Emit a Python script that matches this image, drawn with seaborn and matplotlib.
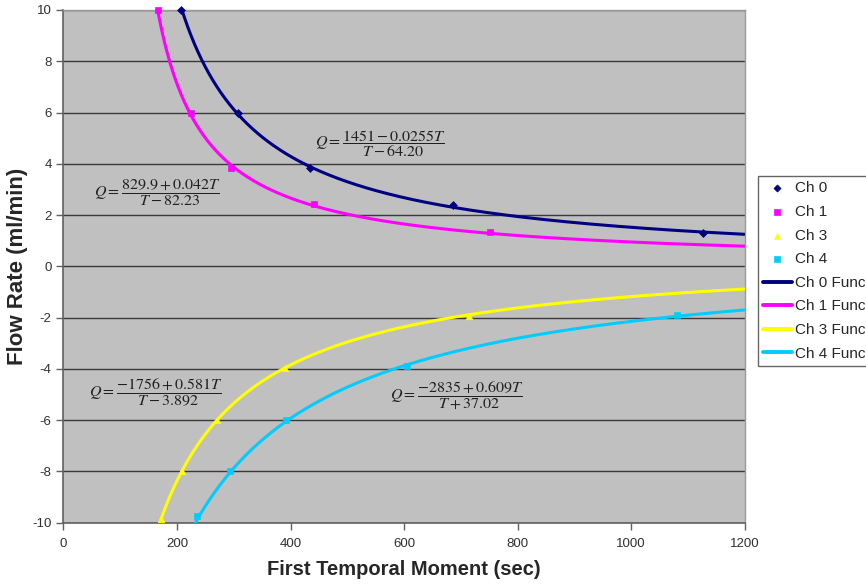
import numpy as np
import pandas as pd
import matplotlib
matplotlib.use("Agg")
import matplotlib.pyplot as plt
import seaborn as sns

# Measured calibration points (first temporal moment T in sec, flow rate Q in ml/min)
ch0_T = [207, 307, 434, 686, 1127]
ch0_Q = [10.0, 5.98, 3.84, 2.40, 1.30]
ch1_T = [166, 225, 296, 442, 751]
ch1_Q = [10.0, 6.0, 3.83, 2.44, 1.33]
ch3_T = [171, 209, 271, 390, 714]
ch3_Q = [-9.85, -8.0, -6.0, -3.97, -1.92]
ch4_T = [236, 293, 392, 606, 1081]
ch4_Q = [-9.75, -8.0, -6.0, -3.90, -1.88]

# Fitted curves Q = (a + b*T) / (T + c)
ch0_fit = (1451.0, -0.0255, -64.20)
ch1_fit = (829.9, 0.042, -82.23)
ch3_fit = (-1756.0, 0.581, -3.892)
ch4_fit = (-2835.0, 0.609, 37.02)

channels = ["Ch 0", "Ch 1", "Ch 3", "Ch 4"]
colors = ["#000080", "#FF00FF", "#FFFF00", "#00CCFF"]
markers = ["D", "s", "^", "s"]
eq_labels = [
    r"$Q=\dfrac{1451-0.0255T}{T-64.20}$",
    r"$Q=\dfrac{829.9+0.042T}{T-82.23}$",
    r"$Q=\dfrac{-1756+0.581T}{T-3.892}$",
    r"$Q=\dfrac{-2835+0.609T}{T+37.02}$",
]
eq_pos = [(558, 4.78), (166, 2.88), (163, -4.94), (694, -5.04)]

sns.set_theme(style="white")
plt.rcParams["font.family"] = ["Liberation Sans", "DejaVu Sans"]
plt.rcParams["mathtext.fontset"] = "stix"
plt.rcParams["axes.unicode_minus"] = False

fig = plt.figure(figsize=(8.66, 5.84), dpi=100)
ax = fig.add_axes([63.5 / 866, (584 - 522.7) / 584, (744.5 - 63.5) / 866, (522.7 - 10) / 584])
ax.set_facecolor("#C0C0C0")

points = [(ch0_T, ch0_Q), (ch1_T, ch1_Q), (ch3_T, ch3_Q), (ch4_T, ch4_Q)]
fits = [ch0_fit, ch1_fit, ch3_fit, ch4_fit]

T_grid = np.linspace(150, 1200, 800)
for name, col, mk, (tx, qy), (a, b, c) in zip(channels, colors, markers, points, fits):
    Q = (a + b * T_grid) / (T_grid + c)
    Q = np.where(np.abs(Q) <= 10.6, Q, np.nan)
    df_line = pd.DataFrame({"T": T_grid, "Q": Q})
    sns.lineplot(data=df_line, x="T", y="Q", ax=ax, color=col, linewidth=2.2,
                 label=name + " Func", zorder=3, legend=False)
    df_pts = pd.DataFrame({"T": tx, "Q": qy})
    ms = 16 if mk == "D" else 22
    sns.scatterplot(data=df_pts, x="T", y="Q", ax=ax, color=col, marker=mk, s=ms,
                    edgecolor=col, linewidth=0.5, zorder=4, label=name, legend=False,
                    clip_on=False)

ax.set_xlim(0, 1200)
ax.set_ylim(-10, 10)
ax.set_xticks(np.arange(0, 1201, 200))
ax.set_yticks(np.arange(-10, 11, 2))
ax.yaxis.grid(True, color="#3a3a3a", linewidth=1.0)
ax.xaxis.grid(False)
ax.set_axisbelow(True)
for side in ["left", "bottom"]:
    ax.spines[side].set_color("#606060")
    ax.spines[side].set_linewidth(1.2)
for side in ["top", "right"]:
    ax.spines[side].set_color("#9a9a9a")
    ax.spines[side].set_linewidth(1.0)
ax.tick_params(axis="both", direction="out", length=5, width=1, color="#606060",
               labelsize=9.5, labelcolor="#303030", left=True, bottom=True)
ax.tick_params(axis="x", pad=6)

ax.set_xlabel("First Temporal Moment (sec)", fontsize=14.5, fontweight="bold")
ax.set_ylabel("Flow Rate (ml/min)", fontsize=16, fontweight="bold")
ax.xaxis.set_label_coords((404 - 63.5) / 681, -(560 - 522.7) / 512.7)
ax.yaxis.set_label_coords((28 - 63.5) / 681, 0.5)

# Fit equations
for (x, y), txt in zip(eq_pos, eq_labels):
    ax.text(x, y, txt, fontsize=11.5, ha="center", va="center", color="#202020", zorder=5)

# Legend: markers first, then fitted lines
h, l = ax.get_legend_handles_labels()
order = [l.index(n) for n in channels] + [l.index(n + " Func") for n in channels]
leg = fig.legend([h[i] for i in order], [l[i] for i in order],
                 loc="upper left", bbox_to_anchor=(758 / 866, 1 - 176 / 584),
                 frameon=True, fancybox=False, fontsize=11, handlelength=1.85,
                 handletextpad=0.25, labelspacing=0.63, borderpad=0.35,
                 borderaxespad=0, markerscale=0.9)
leg.get_frame().set_edgecolor("#404040")
leg.get_frame().set_linewidth(1.0)
for line in leg.get_lines():
    line.set_linewidth(2.8)

fig.savefig("out.png", dpi=100)
